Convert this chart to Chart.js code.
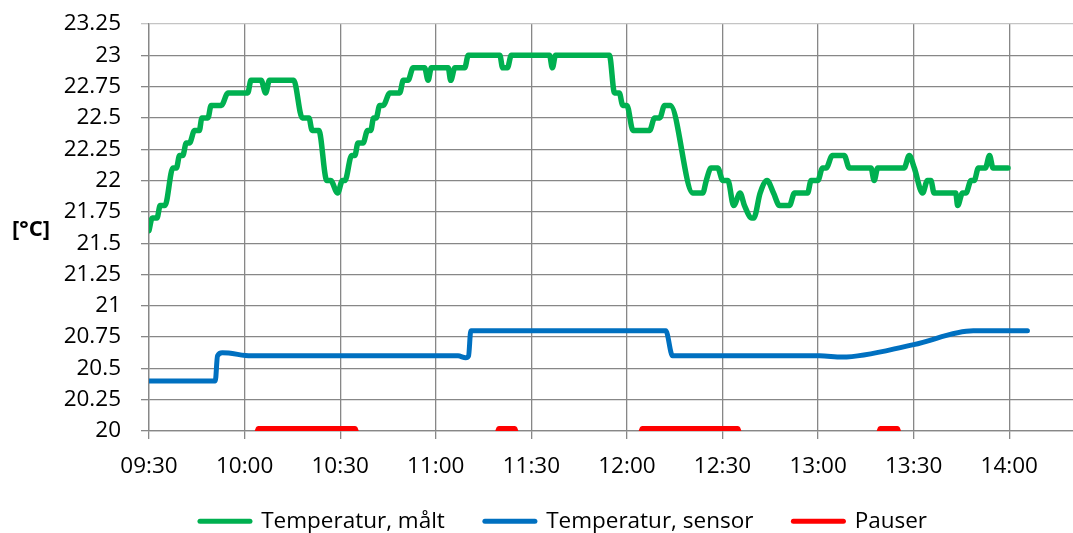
<!DOCTYPE html>
<html>
<head>
<meta charset="utf-8">
<script src="https://cdn.jsdelivr.net/npm/chart.js@4.4.1/dist/chart.umd.min.js"></script>
<style>
html,body{margin:0;padding:0;background:#ffffff;}
#wrap{width:1073px;height:533px;position:relative;}
</style>
</head>
<body>
<div id="wrap"><canvas id="c" width="1073" height="533"></canvas></div>
<script>
// ---- data (time = minutes after 09:30) ----
const START_MIN = 570; // 09:30 in minutes after midnight
const X_MAX_OFFSET = 290;
const xTickLabels = ['09:30','10:00','10:30','11:00','11:30','12:00','12:30','13:00','13:30','14:00'];
const seriesNames = ['Temperatur, målt', 'Temperatur, sensor', 'Pauser'];
const yUnitLabel = '[°C]';

const measuredTime = [0, 1, 2.5, 3.5, 5, 7.5, 8.6, 9.6, 10.6, 11.7, 12.7, 14.3, 15.8, 16.6, 18.5, 19.5, 22.7, 24.8, 31.0, 32, 35.2, 36.6, 37.8, 45.4, 48.1, 50.2, 51.2, 53.3, 55.8, 57, 59.2, 60.7, 61.5, 63.6, 64.6, 65.6, 67.2, 68.6, 69.6, 70.5, 71.3, 72.4, 73.5, 75.6, 78.7, 79.8, 81.3, 82.9, 86.5, 87.6, 88.6, 93.9, 94.7, 96, 99.1, 100.2, 110.1, 111, 112.5, 113.7, 125.7, 126.6, 127.6, 144.5, 146.1, 147.6, 148.7, 150, 151.9, 157.1, 158.7, 160.3, 161.8, 163.6, 170.7, 173.8, 174.9, 176.4, 178.5, 180.1, 181.7, 183.5, 185.5, 186.9, 189.2, 189.8, 191.8, 194, 196, 197.9, 201, 202.6, 206.7, 207.8, 209.9, 211.4, 212.5, 214.5, 218.2, 219.8, 226.6, 227.6, 228.7, 237, 238.6, 240.2, 242.8, 244.3, 245.4, 246.4, 253.2, 253.8, 255.3, 256.4, 258, 259, 260.3, 262.5, 263.8, 264.9, 269.6];
const measuredTemp = [21.6, 21.7, 21.7, 21.8, 21.8, 22.1, 22.1, 22.2, 22.2, 22.3, 22.3, 22.4, 22.4, 22.5, 22.5, 22.6, 22.6, 22.7, 22.7, 22.8, 22.8, 22.7, 22.8, 22.8, 22.5, 22.5, 22.4, 22.4, 22.0, 22.0, 21.9, 22.0, 22.0, 22.2, 22.2, 22.3, 22.3, 22.4, 22.4, 22.5, 22.5, 22.6, 22.6, 22.7, 22.7, 22.8, 22.8, 22.9, 22.9, 22.8, 22.9, 22.9, 22.8, 22.9, 22.9, 23.0, 23.0, 22.9, 22.9, 23.0, 23.0, 22.9, 23.0, 23.0, 22.7, 22.7, 22.6, 22.6, 22.4, 22.4, 22.5, 22.5, 22.6, 22.6, 21.9, 21.9, 22.0, 22.1, 22.1, 22.0, 22.0, 21.8, 21.9, 21.8, 21.7, 21.7, 21.9, 22.0, 21.9, 21.8, 21.8, 21.9, 21.9, 22.0, 22.0, 22.1, 22.1, 22.2, 22.2, 22.1, 22.1, 22.0, 22.1, 22.1, 22.2, 22.1, 21.9, 22.0, 22.0, 21.9, 21.9, 21.8, 21.9, 21.9, 22.0, 22.0, 22.1, 22.1, 22.2, 22.1, 22.1];

const sensorTime = [0, 20.8, 21.5, 23, 25, 32, 97, 99.4, 100.3, 101.0, 162.2, 164.3, 210.5, 217.5, 240, 258.7, 275.7];
const sensorTemp = [20.4, 20.4, 20.6, 20.625, 20.622, 20.6, 20.6, 20.585, 20.6, 20.8, 20.8, 20.6, 20.6, 20.59, 20.69, 20.8, 20.8];

const pauseStart = [34, 109.5, 154.5, 229.2];
const pauseEnd = [65, 115.1, 185.1, 235.2];
const pauseLevel = 20.02;
const pauseBase = 20;

const yMin = 20, yMax = 23.25, yStep = 0.25;

// ---- build library tables from the arrays ----
const measuredPts = measuredTime.map((t, i) => ({x: START_MIN + t, y: measuredTemp[i]}));
const sensorPts = sensorTime.map((t, i) => ({x: START_MIN + t, y: sensorTemp[i]}));
const pausePts = [];
pauseStart.forEach((s, i) => {
  if (i > 0) pausePts.push({x: START_MIN + s - 0.5, y: null});
  pausePts.push({x: START_MIN + s, y: pauseBase});
  pausePts.push({x: START_MIN + s + 0.3, y: pauseLevel});
  pausePts.push({x: START_MIN + pauseEnd[i] - 0.3, y: pauseLevel});
  pausePts.push({x: START_MIN + pauseEnd[i], y: pauseBase});
});

const COLORS = ['#00B050', '#0070C0', '#FF0000'];
const FONT = '"Open Sans", "Liberation Sans", sans-serif';
const FS = 22.5;
const GRID = '#878787';

const unitLabelPlugin = {
  id: 'unitLabel',
  afterDraw(chart) {
    const ctx = chart.ctx;
    ctx.save();
    ctx.font = 'bold 22px ' + FONT;
    ctx.fillStyle = '#000';
    ctx.textAlign = 'center';
    ctx.textBaseline = 'middle';
    ctx.fillText(yUnitLabel, 31, 230);
    ctx.restore();
  }
};

function fmtTime(v) {
  const h = Math.floor(v / 60), m = Math.round(v % 60);
  return String(h).padStart(2, '0') + ':' + String(m).padStart(2, '0');
}

new Chart(document.getElementById('c'), {
  type: 'line',
  data: {
    datasets: [
      {label: seriesNames[0], data: measuredPts, borderColor: COLORS[0], backgroundColor: COLORS[0], borderWidth: 5.5, pointRadius: 0, cubicInterpolationMode: 'monotone', borderCapStyle: 'round', borderJoinStyle: 'round', fill: false},
      {label: seriesNames[1], data: sensorPts, borderColor: COLORS[1], backgroundColor: COLORS[1], borderWidth: 5, pointRadius: 0, cubicInterpolationMode: 'monotone', borderCapStyle: 'round', borderJoinStyle: 'round', fill: false},
      {label: seriesNames[2], data: pausePts, borderColor: COLORS[2], backgroundColor: COLORS[2], borderWidth: 5, pointRadius: 0, tension: 0, spanGaps: false, borderCapStyle: 'round', borderJoinStyle: 'round', fill: false}
    ]
  },
  options: {
    responsive: false,
    animation: false,
    devicePixelRatio: 1,
    layout: {padding: {left: 54, top: 24, right: 0, bottom: 0}},
    plugins: {
      tooltip: {enabled: false},
      legend: {
        position: 'bottom',
        align: 'center',
        maxHeight: 63,
        labels: {
          font: {family: FONT, size: FS},
          color: '#000',
          usePointStyle: true,
          pointStyleWidth: 50,
          padding: 40,
          generateLabels(chart) {
            return chart.data.datasets.map((ds, i) => ({
              text: ds.label,
              fillStyle: ds.borderColor,
              strokeStyle: ds.borderColor,
              lineWidth: 5,
              lineCap: 'round',
              pointStyle: 'line',
              hidden: false,
              datasetIndex: i,
              fontColor: '#000'
            }));
          }
        }
      }
    },
    scales: {
      x: {
        type: 'linear',
        min: START_MIN,
        max: START_MIN + X_MAX_OFFSET,
        afterFit(scale) {
          scale.height = 39;
          scale._computeLabelArea = () => null; // let tick labels extend below the box
        },
        ticks: {
          stepSize: 30,
          includeBounds: false,
          autoSkip: false,
          maxRotation: 0,
          padding: 14,
          color: '#000',
          font: {family: FONT, size: FS},
          callback(v) {
            const idx = Math.round((v - START_MIN) / 30);
            return xTickLabels[idx] !== undefined ? xTickLabels[idx] : fmtTime(v);
          }
        },
        grid: {color: GRID, lineWidth: 1.3, tickLength: 8, drawTicks: true},
        border: {color: GRID, width: 1.3}
      },
      y: {
        min: yMin,
        max: yMax,
        afterFit(scale) {
          scale.width = 95;
          scale.paddingTop = 12;
          scale.paddingBottom = 12;
        },
        ticks: {
          stepSize: yStep,
          padding: 20,
          color: '#000',
          font: {family: FONT, size: FS},
          callback(v) { return String(Math.round(v * 100) / 100); }
        },
        grid: {
          color: (c) => (c.tick && Math.abs(c.tick.value - yMax) < 1e-6) ? '#c4c4c4' : GRID,
          lineWidth: 1.3, tickLength: 8, drawTicks: true
        },
        border: {color: GRID, width: 1.3}
      }
    }
  },
  plugins: [unitLabelPlugin]
});
</script>
</body>
</html>
